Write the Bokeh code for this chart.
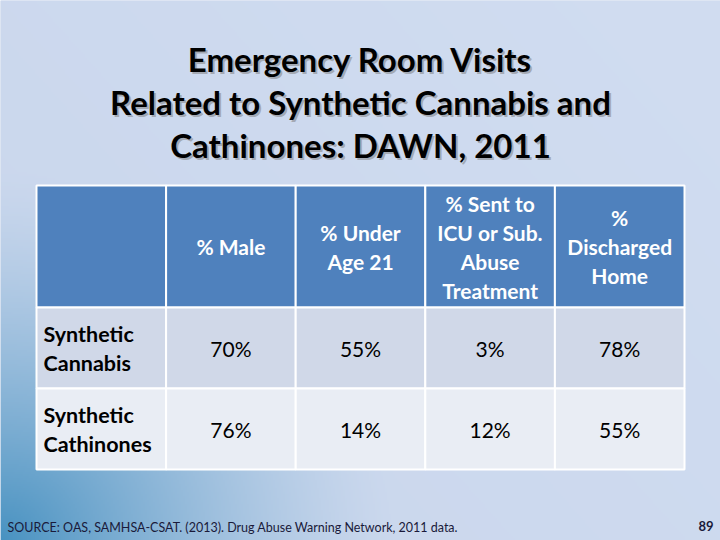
import numpy as np
from bokeh.plotting import figure
from bokeh.models import Range1d
from bokeh.embed import file_html
from bokeh.resources import INLINE
from bokeh.core.properties import value

# ---------------- data ----------------
title_lines = ["Emergency Room Visits", "Related to Synthetic Cannabis and", "Cathinones: DAWN, 2011"]
col_headers = [["% Male"], ["% Under", "Age 21"], ["% Sent to", "ICU or Sub.", "Abuse", "Treatment"], ["%", "Discharged", "Home"]]
row_labels = [["Synthetic", "Cannabis"], ["Synthetic", "Cathinones"]]
pct_male = [70, 76]
pct_under21 = [55, 14]
pct_icu_treatment = [3, 12]
pct_discharged = [78, 55]
source_text = "SOURCE: OAS, SAMHSA-CSAT. (2013). Drug Abuse Warning Network, 2011 data."
page_number = "89"

W, H = 720, 540
FONT = "Lato"

p = figure(width=W, height=H, x_range=Range1d(0, W), y_range=Range1d(H, 0),
           toolbar_location=None, output_backend="svg", min_border=0,
           outline_line_color=None, background_fill_color="#c9d6ec",
           border_fill_color="#c9d6ec")
p.axis.visible = False
p.grid.visible = False

# ---------------- background gradient ----------------
gw, gh = 360, 270
xs = (np.arange(gw) + 0.5) * W / gw
ys = (np.arange(gh) + 0.5) * H / gh
X, Y = np.meshgrid(xs, ys)
light = np.array([201, 214, 236], dtype=float)
lighter = np.array([209, 221, 241], dtype=float)
blue = np.array([72, 146, 193], dtype=float)
s = np.clip((X / W) * 0.6 + (1 - Y / H) * 0.4, 0, 1)[..., None]
base = light * (1 - s) + lighter * s
d = np.sqrt((X / 400.0) ** 2 + ((H - Y) / 370.0) ** 2)
t = (np.clip(1 - d, 0, 1) ** 1.4)[..., None]
rgb = base * (1 - t) + blue * t
img = np.empty((gh, gw), dtype=np.uint32)
view = img.view(dtype=np.uint8).reshape((gh, gw, 4))
view[..., 0:3] = rgb.astype(np.uint8)
view[..., 3] = 255
p.image_rgba(image=[img], x=0, y=0, dw=W, dh=H)

# ---------------- title ----------------
title_y0, title_dy = 58, 43
for i, line in enumerate(title_lines):
    y = title_y0 + i * title_dy
    p.text(x=[362], y=[y + 2], text=[line], text_align="center", text_baseline="middle",
           text_font=value(FONT), text_font_style="bold", text_font_size="33px",
           text_color="#808080", text_alpha=0.55)
    p.text(x=[360], y=[y], text=[line], text_align="center", text_baseline="middle",
           text_font=value(FONT), text_font_style="bold", text_font_size="33px",
           text_color="#000000")

# ---------------- table ----------------
tab_left, tab_right = 36, 684
hdr_top, hdr_bot = 185, 307
row_h = 81
ncol = 5
col_w = (tab_right - tab_left) / ncol
edges = [tab_left + i * col_w for i in range(ncol + 1)]

# header cells
p.quad(left=edges[:-1], right=edges[1:], top=[hdr_top] * ncol, bottom=[hdr_bot] * ncol,
       fill_color="#4f81bd", line_color="white", line_width=2)
# body cells
row_fill = ["#d0d8e8", "#e9edf4"]
for r in range(2):
    top = hdr_bot + r * row_h
    p.quad(left=edges[:-1], right=edges[1:], top=[top] * ncol, bottom=[top + row_h] * ncol,
           fill_color=row_fill[r], line_color="white", line_width=2)

# header texts
hdr_lh = 29
for c, lines in enumerate(col_headers):
    cx = (edges[c + 1] + edges[c + 2]) / 2
    cy = (hdr_top + hdr_bot) / 2
    n = len(lines)
    for k, ln in enumerate(lines):
        y = cy + (k - (n - 1) / 2) * hdr_lh
        p.text(x=[cx], y=[y], text=[ln], text_align="center", text_baseline="middle",
               text_font=value(FONT), text_font_style="bold", text_font_size="21px",
               text_color="white")

# row labels
for r, lines in enumerate(row_labels):
    cy = hdr_bot + r * row_h + row_h / 2
    n = len(lines)
    for k, ln in enumerate(lines):
        y = cy + (k - (n - 1) / 2) * hdr_lh
        p.text(x=[edges[0] + 7], y=[y], text=[ln], text_align="left", text_baseline="middle",
               text_font=value(FONT), text_font_style="bold", text_font_size="21.5px",
               text_color="black")

# values
series = [pct_male, pct_under21, pct_icu_treatment, pct_discharged]
for c, vals in enumerate(series):
    cx = (edges[c + 1] + edges[c + 2]) / 2
    for r, v in enumerate(vals):
        cy = hdr_bot + r * row_h + row_h / 2
        p.text(x=[cx], y=[cy], text=[f"{v}%"], text_align="center", text_baseline="middle",
               text_font=value(FONT), text_font_size="21px", text_color="black")

# ---------------- footer ----------------
p.text(x=[7], y=[527], text=[source_text], text_align="left", text_baseline="middle",
       text_font=value(FONT), text_font_size="12.5px", text_color="#1a1a3a")
p.text(x=[713], y=[525], text=[page_number], text_align="right", text_baseline="middle",
       text_font=value(FONT), text_font_style="bold", text_font_size="13px", text_color="#1a1a3a")

html = file_html(p, INLINE)
html = html.replace("<head>", "<head><style>html,body{margin:0;padding:0;overflow:hidden;}</style>", 1)
open("out.html", "w").write(html)
